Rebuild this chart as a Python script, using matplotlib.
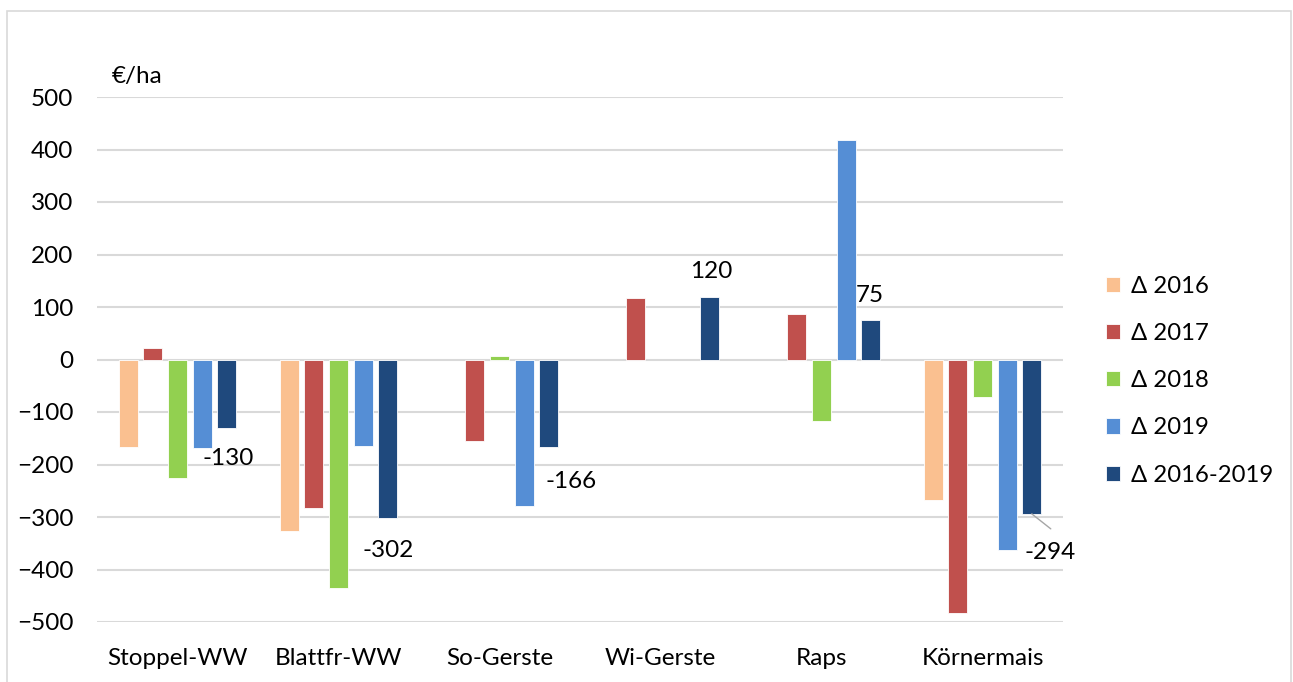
import numpy as np
import matplotlib
matplotlib.use("Agg")
import matplotlib.pyplot as plt
from matplotlib.patches import Rectangle

plt.rcParams['font.family'] = ['Lato', 'DejaVu Sans']

categories = ["Stoppel-WW", "Blattfr-WW", "So-Gerste", "Wi-Gerste", "Raps", "Körnermais"]
series_names = ["Δ 2016", "Δ 2017", "Δ 2018", "Δ 2019", "Δ 2016-2019"]
d2016 = [-166, -326, np.nan, np.nan, np.nan, -267]
d2017 = [22, -282, -155, 117, 87, -483]
d2018 = [-225, -435, 7, np.nan, -117, -72]
d2019 = [-169, -164, -279, np.nan, 418, -362]
d2016_2019 = [-130, -302, -166, 120, 75, -294]
colors = ["#FAC090", "#C0504D", "#92D050", "#558ED5", "#1F497D"]

# label offsets (pixels) for the Δ 2016-2019 data labels
label_dx = [1, 0, 22, 1, -1, 18]
label_dy = [-31, -32, -35, 25, 25, -39]

fig = plt.figure(figsize=(12.93, 6.82), dpi=100)
ax = fig.add_axes([97 / 1293, 60 / 682, 966 / 1293, 525 / 682])

x = np.arange(len(categories))
step = 0.153
width = 0.118
all_series = [d2016, d2017, d2018, d2019, d2016_2019]
bars = []
for i, (vals, col, name) in enumerate(zip(all_series, colors, series_names)):
    b = ax.bar(x + (i - 2) * step, vals, width, color=col, label=name,
               edgecolor="white", linewidth=0.6, zorder=3)
    bars.append(b)

# data labels for the multi-year series
for j, v in enumerate(d2016_2019):
    xc = x[j] + 2 * step
    ax.annotate(f"{v}", xy=(xc, v), xytext=(label_dx[j], label_dy[j]),
                textcoords="offset pixels", ha="center", va="center",
                fontsize=17.5, color="black", zorder=5)

# leader line for the Körnermais label
ax.annotate("", xy=(x[5] + 2 * step, d2016_2019[5]), xytext=(19, -15),
            textcoords="offset pixels",
            arrowprops=dict(arrowstyle="-", color="#A6A6A6", lw=1.0,
                            shrinkA=0, shrinkB=0))

ax.set_xlim(-0.5, len(categories) - 0.5)
ax.set_ylim(-500, 500)
ax.set_yticks(np.arange(-500, 501, 100))
ax.set_xticks(x)
ax.set_xticklabels(categories)
ax.tick_params(axis="both", length=0, labelsize=17.5)
ax.tick_params(axis="y", pad=17)
ax.tick_params(axis="x", pad=19)
ax.yaxis.grid(True, color="#D9D9D9", linewidth=1.5, zorder=0)
ax.set_axisbelow(True)
for s in ax.spines.values():
    s.set_visible(False)

fig.text(112 / 1293, 1 - 76 / 682, "€/ha", fontsize=17.5, va="center", ha="left")

leg = fig.legend(handles=bars, labels=series_names, loc="upper left",
                 bbox_to_anchor=(1096 / 1293, 1 - 266 / 682), frameon=False,
                 fontsize=17.2, handlelength=0.6, handleheight=0.6,
                 handletextpad=0.45, labelspacing=1.1, borderaxespad=0)

# chart area border
fig.patches.append(Rectangle((6.5 / 1293, -0.05), (1291 - 6.5) / 1293, 1.05 - 11 / 682,
                             transform=fig.transFigure, fill=False,
                             edgecolor="#D9D9D9", linewidth=1.2))

fig.savefig("out.png", dpi=100)
